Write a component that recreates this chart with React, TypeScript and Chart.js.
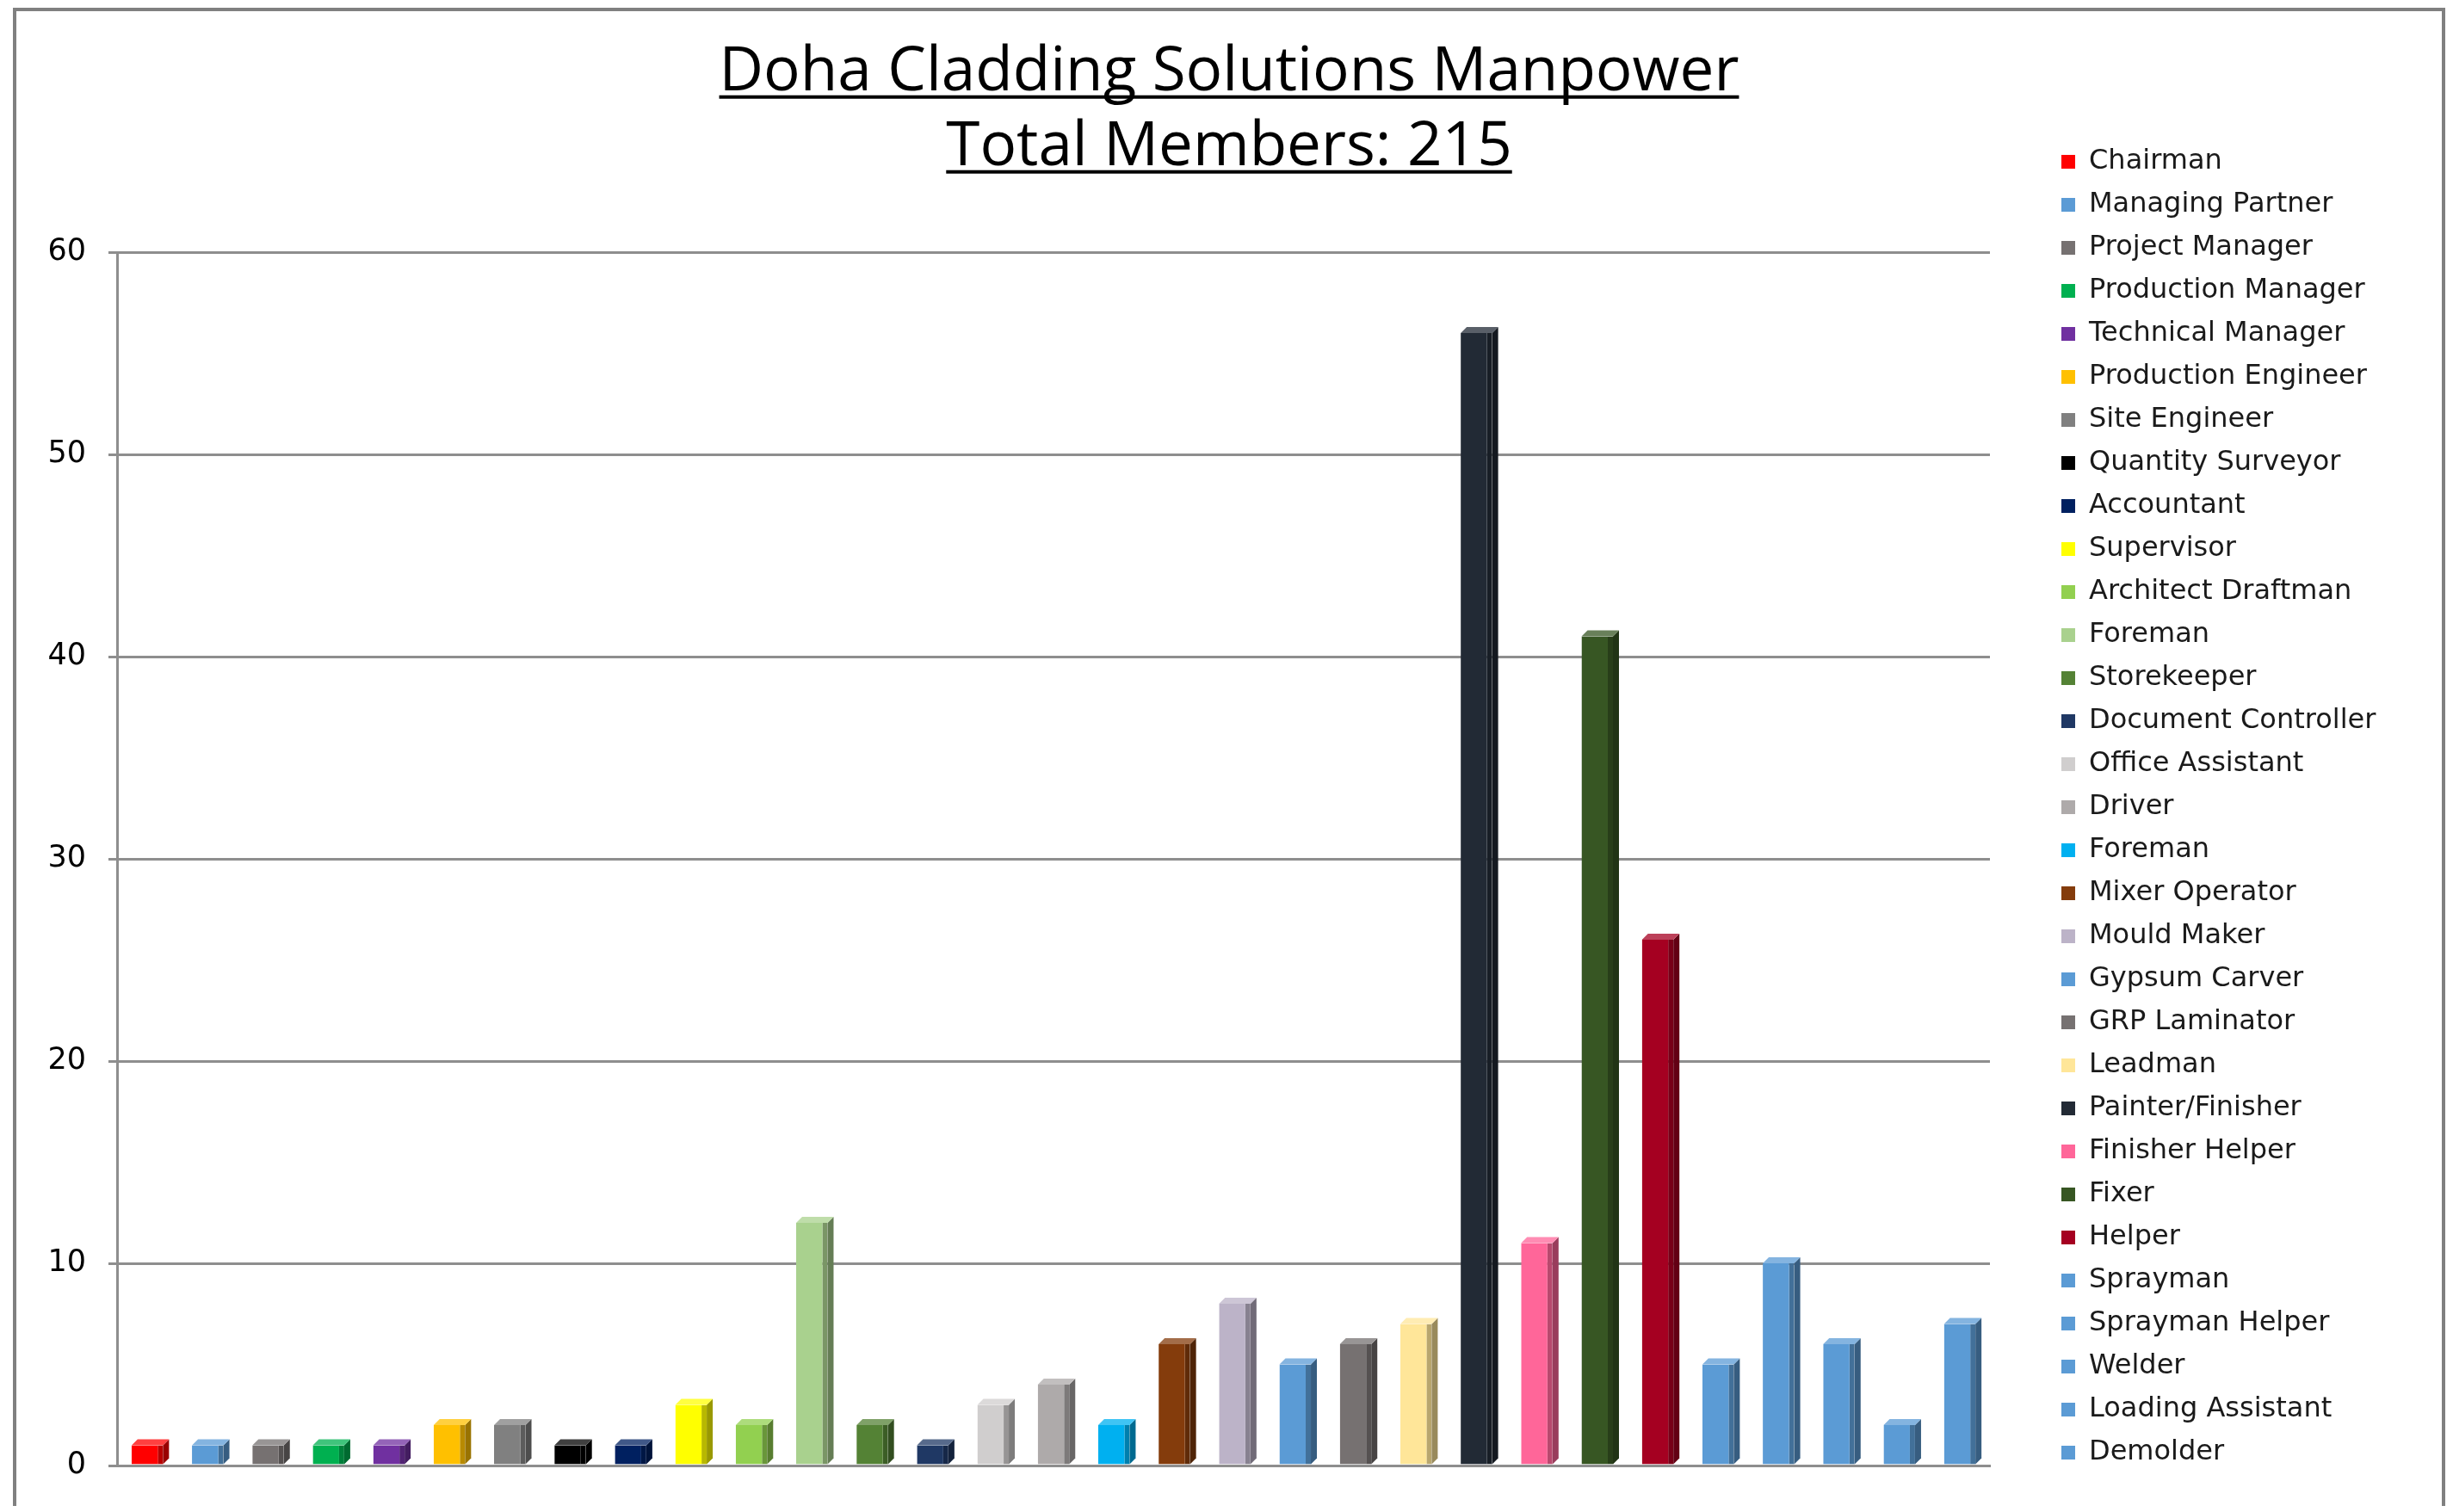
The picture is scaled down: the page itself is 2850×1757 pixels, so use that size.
import { useEffect, useRef } from 'react';
import { Chart, registerables } from 'chart.js';

Chart.register(...registerables);

// ---------- data ----------
const titleLines = ['Doha Cladding Solutions Manpower', 'Total Members: 215'];

const categories = [
  'Chairman', 'Managing Partner', 'Project Manager', 'Production Manager', 'Technical Manager',
  'Production Engineer', 'Site Engineer', 'Quantity Surveyor', 'Accountant', 'Supervisor',
  'Architect Draftman', 'Foreman', 'Storekeeper', 'Document Controller', 'Office Assistant',
  'Driver', 'Foreman', 'Mixer Operator', 'Mould Maker', 'Gypsum Carver',
  'GRP Laminator', 'Leadman', 'Painter/Finisher', 'Finisher Helper', 'Fixer',
  'Helper', 'Sprayman', 'Sprayman Helper', 'Welder', 'Loading Assistant', 'Demolder',
];

const counts = [
  1, 1, 1, 1, 1,
  2, 2, 1, 1, 3,
  2, 12, 2, 1, 3,
  4, 2, 6, 8, 5,
  6, 7, 56, 11, 41,
  26, 5, 10, 6, 2, 7,
];

const barColors = [
  '#ff0000', '#5b9bd5', '#767171', '#00b050', '#7030a0',
  '#ffc000', '#808080', '#000000', '#002060', '#ffff00',
  '#92d050', '#a9d18e', '#548235', '#1f3864', '#d0cece',
  '#aeaaaa', '#00b0f0', '#843c0c', '#bcb3c8', '#5b9bd5',
  '#767171', '#ffe699', '#222a35', '#ff6699', '#375623',
  '#a50021', '#5b9bd5', '#5b9bd5', '#5b9bd5', '#5b9bd5', '#5b9bd5',
];

const yMin = 0;
const yMax = 60;
const yStep = 10;

// ---------- style constants ----------
const CANVAS_W = 2850;
const CANVAS_H = 1750;
const TITLE_SIZE = 71;
const TITLE_LH = 87;
const TITLE_PAD_TOP = 41;
const TITLE_PAD_BOTTOM = 78;
const TITLE_CENTER_X = 1428;
const LEGEND_LEFT = 2377;
const LEGEND_FONT_SIZE = 32;
const LEGEND_FONT_FAMILY = '"DejaVu Sans", sans-serif';
const LEGEND_TEXT = '#1a1a1a';
const LEGEND_PAD = 18;
const LEGEND_BOX = 16;
const GRID = '#8e8e8e';
const DEPTH = 7;

function shade(hex: string, f: number) {
  const n = parseInt(hex.slice(1), 16);
  const ch = [(n >> 16) & 255, (n >> 8) & 255, n & 255].map((v) =>
    f < 1 ? Math.round(v * f) : Math.round(v + (255 - v) * (f - 1))
  );
  return `rgb(${ch[0]},${ch[1]},${ch[2]})`;
}

const titlePlacement = {
  id: 'titlePlacement',
  afterLayout(chart: any) {
    const tb = chart.titleBlock;
    if (!tb) return;
    const half = Math.min(TITLE_CENTER_X, chart.width - TITLE_CENTER_X);
    tb.left = TITLE_CENTER_X - half;
    tb.right = TITLE_CENTER_X + half;
  },
  afterDraw(chart: any) {
    const tb = chart.titleBlock;
    if (!tb) return;
    const ctx = chart.ctx as CanvasRenderingContext2D;
    ctx.save();
    ctx.font = `normal ${TITLE_SIZE}px "Open Sans", sans-serif`;
    ctx.textBaseline = 'middle';
    const off = ctx.measureText('H').actualBoundingBoxDescent;
    const cx = (tb.left + tb.right) / 2;
    ctx.fillStyle = '#000';
    titleLines.forEach((line, i) => {
      const w = ctx.measureText(line).width;
      const yMid = tb.top + TITLE_PAD_TOP + TITLE_LH / 2 + i * TITLE_LH;
      ctx.fillRect(cx - w / 2, yMid + off + 6, w, 4);
    });
    ctx.restore();
  },
};

// small 3-D cap and side on each bar, derived from the bar elements themselves
const barDepth = {
  id: 'barDepth',
  afterDatasetsDraw(chart: any) {
    const ctx = chart.ctx as CanvasRenderingContext2D;
    const meta = chart.getDatasetMeta(0);
    ctx.save();
    meta.data.forEach((bar: any, i: number) => {
      const { x, y, base, width } = bar.getProps(['x', 'y', 'base', 'width'], true);
      const l = x - width / 2;
      const r = x + width / 2;
      const c = barColors[i];
      ctx.fillStyle = shade(c, 0.6);
      ctx.beginPath();
      ctx.moveTo(r, y);
      ctx.lineTo(r + DEPTH, y - DEPTH);
      ctx.lineTo(r + DEPTH, base - DEPTH);
      ctx.lineTo(r, base);
      ctx.closePath();
      ctx.fill();
      ctx.fillStyle = shade(c, 1.25);
      ctx.beginPath();
      ctx.moveTo(l, y);
      ctx.lineTo(l + DEPTH, y - DEPTH);
      ctx.lineTo(r + DEPTH, y - DEPTH);
      ctx.lineTo(r, y);
      ctx.closePath();
      ctx.fill();
    });
    ctx.restore();
  },
};

export default function App() {
  const ref = useRef<HTMLCanvasElement>(null);

  useEffect(() => {
    if (!ref.current) return;
    // natural legend width, so that the legend column starts where the reference has it
    const mctx = document.createElement('canvas').getContext('2d') as CanvasRenderingContext2D;
    mctx.font = `${LEGEND_FONT_SIZE}px ${LEGEND_FONT_FAMILY}`;
    const maxText = Math.max(...categories.map((t) => mctx.measureText(t).width));
    const legendW = LEGEND_PAD + LEGEND_BOX + LEGEND_FONT_SIZE / 2 + maxText + 10;
    const padRight = Math.max(0, CANVAS_W - LEGEND_LEFT - legendW);

    const chart = new Chart(ref.current, {
      type: 'bar',
      data: {
        labels: categories,
        datasets: [
          {
            label: 'Manpower',
            data: counts,
            backgroundColor: barColors,
            borderColor: barColors.map((c) => shade(c, 0.72)),
            borderWidth: { left: 0, right: 6, top: 0, bottom: 0 } as any,
            borderSkipped: false,
            barPercentage: 0.52,
            categoryPercentage: 1,
          },
        ],
      },
      options: {
        responsive: false,
        animation: false,
        devicePixelRatio: 1,
        layout: { padding: { left: 20, right: padRight, top: 0, bottom: 0 } },
        plugins: {
          title: {
            display: true,
            text: titleLines,
            color: '#000',
            font: { family: '"Open Sans", sans-serif', size: TITLE_SIZE, weight: 'normal', lineHeight: `${TITLE_LH}px` as any },
            padding: { top: TITLE_PAD_TOP, bottom: TITLE_PAD_BOTTOM },
          },
          legend: {
            display: true,
            position: 'right',
            align: 'start',
            onClick: () => {},
            title: {
              display: true,
              text: ' ',
              font: { size: 10, lineHeight: 1 },
              padding: { top: 144, bottom: 0 },
            },
            labels: {
              boxWidth: LEGEND_BOX,
              boxHeight: LEGEND_BOX,
              padding: LEGEND_PAD,
              color: LEGEND_TEXT,
              font: { family: LEGEND_FONT_FAMILY, size: LEGEND_FONT_SIZE },
              generateLabels: () =>
                categories.map((c, i) => ({
                  text: c,
                  fillStyle: barColors[i],
                  strokeStyle: barColors[i],
                  fontColor: LEGEND_TEXT,
                  lineWidth: 0,
                  hidden: false,
                  index: i,
                  datasetIndex: 0,
                })),
            },
          },
          tooltip: { enabled: false },
        },
        scales: {
          x: {
            type: 'category',
            grid: { display: false },
            ticks: { display: false },
            border: { display: true, color: GRID, width: 3 },
            afterFit: (s: any) => {
              s.height = 40;
            },
          },
          y: {
            type: 'linear',
            position: 'left',
            min: yMin,
            max: yMax,
            ticks: {
              stepSize: yStep,
              padding: 26,
              color: '#000',
              font: { family: '"DejaVu Sans", sans-serif', size: 35 },
            },
            grid: { color: GRID, lineWidth: 3, drawTicks: true, tickLength: 10, tickColor: GRID },
            border: { display: true, color: GRID, width: 3 },
            afterFit: (s: any) => {
              s.width = 116;
            },
          },
          yr: {
            type: 'linear',
            position: 'right',
            display: true,
            grid: { display: false, drawTicks: false },
            border: { display: false },
            ticks: { display: false },
            afterFit: (s: any) => {
              s.width = 65;
            },
          },
        },
      } as any,
      plugins: [titlePlacement, barDepth],
    });
    return () => chart.destroy();
  }, []);

  return (
    <div style={{ position: 'absolute', left: 0, top: 0, width: CANVAS_W, height: CANVAS_H, background: '#fff' }}>
      <div
        style={{
          position: 'absolute',
          left: 15,
          top: 9,
          width: 2826,
          height: 1741,
          boxSizing: 'border-box',
          borderTop: '4px solid #808080',
          borderLeft: '4px solid #808080',
          borderRight: '4px solid #808080',
        }}
      />
      <canvas
        ref={ref}
        width={CANVAS_W}
        height={CANVAS_H}
        style={{ position: 'absolute', left: 0, top: 0, width: CANVAS_W, height: CANVAS_H }}
      />
    </div>
  );
}
